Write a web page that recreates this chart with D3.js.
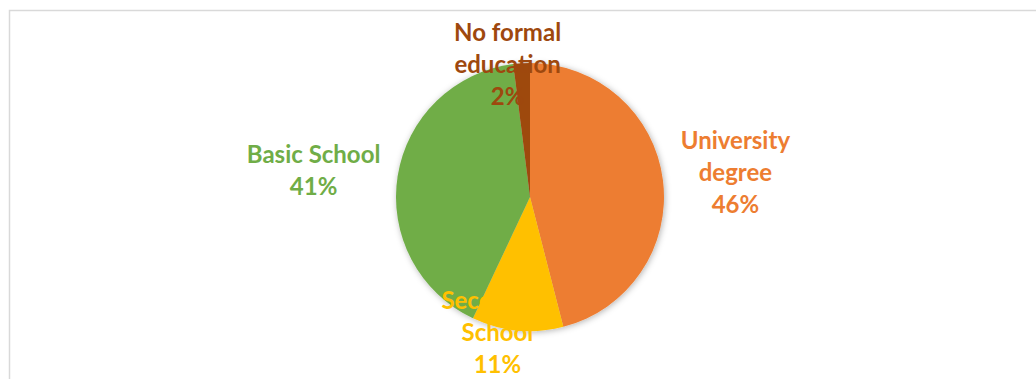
<!DOCTYPE html>
<html>
<head>
<meta charset="utf-8">
<script src="https://cdn.jsdelivr.net/npm/d3@7"></script>
<style>
  html, body { margin: 0; padding: 0; background: #fff; }
  svg { display: block; }
</style>
</head>
<body>
<svg id="chart" width="1036" height="379"></svg>
<script>
// data, clockwise from 12 o'clock
const categories = ["University degree", "Secondary School", "Basic School", "No formal education"];
const values = [46, 11, 41, 2];
const colors = ["#ED7D31", "#FFC000", "#70AD47", "#9E480E"];

const svg = d3.select("#chart");
const width = +svg.attr("width");
const height = +svg.attr("height");

const cx = 530, cy = 197, radius = 134;
const fontSize = 24, lineStep = 32, wrapWidth = 150;

// label placement (Excel "best fit" style), per slice: radius factor and nudge
const labelLayout = [
  {k: 1.53, dx: 2, dy: 1},
  {k: 1.0, dx: -20, dy: 2},
  {k: 1.62, dx: -2, dy: 8},
  {k: 1.0, dx: -14, dy: 1}
];

// chart area frame
svg.append("rect")
  .attr("x", 9.5).attr("y", 10.5)
  .attr("width", width + 20).attr("height", height + 20)
  .attr("fill", "#fff")
  .attr("stroke", "#d9d9d9")
  .attr("stroke-width", 1.5);

const defs = svg.append("defs");
const f = defs.append("filter").attr("id", "shadow")
  .attr("x", "-20%").attr("y", "-20%").attr("width", "140%").attr("height", "140%");
f.append("feDropShadow")
  .attr("dx", 1).attr("dy", 1).attr("stdDeviation", 3)
  .attr("flood-color", "#000").attr("flood-opacity", 0.3);

const data = categories.map((c, i) => ({name: c, value: values[i], color: colors[i], i}));
const total = d3.sum(values);

const pie = d3.pie().value(d => d.value).sort(null);
const arc = d3.arc().innerRadius(0).outerRadius(radius);
const arcs = pie(data);

const g = svg.append("g").attr("transform", `translate(${cx},${cy})`);

g.append("g").attr("filter", "url(#shadow)")
  .selectAll("path")
  .data(arcs)
  .join("path")
  .attr("d", arc)
  .attr("fill", d => d.data.color);

const pct = d3.format(".0%");

const labels = g.append("g")
  .attr("font-family", "Lato, 'Open Sans', sans-serif")
  .attr("font-weight", "bold")
  .attr("font-size", fontSize)
  .attr("text-anchor", "middle")
  .selectAll("text")
  .data(arcs)
  .join("text")
  .attr("fill", d => d.data.color);

// word wrap the category name, then add the percentage line
labels.each(function(d) {
  const text = d3.select(this);
  const words = d.data.name.split(" ");
  const lines = [];
  let line = [];
  const probe = text.append("tspan");
  words.forEach(w => {
    const test = line.concat(w).join(" ");
    probe.text(test);
    if (line.length && probe.node().getComputedTextLength() > wrapWidth) {
      lines.push(line.join(" "));
      line = [w];
    } else {
      line.push(w);
    }
  });
  lines.push(line.join(" "));
  probe.remove();
  lines.push(pct(d.value / total));

  const lay = labelLayout[d.data.i];
  const mid = (d.startAngle + d.endAngle) / 2;
  const r = radius * lay.k;
  const x = r * Math.sin(mid) + lay.dx;
  const y = -r * Math.cos(mid) + lay.dy;
  const first = y - (lines.length - 1) * lineStep / 2 + fontSize * 0.35;

  text.selectAll("tspan")
    .data(lines)
    .join("tspan")
    .attr("x", x)
    .attr("y", (l, j) => first + j * lineStep)
    .text(l => l);
});
</script>
</body>
</html>
